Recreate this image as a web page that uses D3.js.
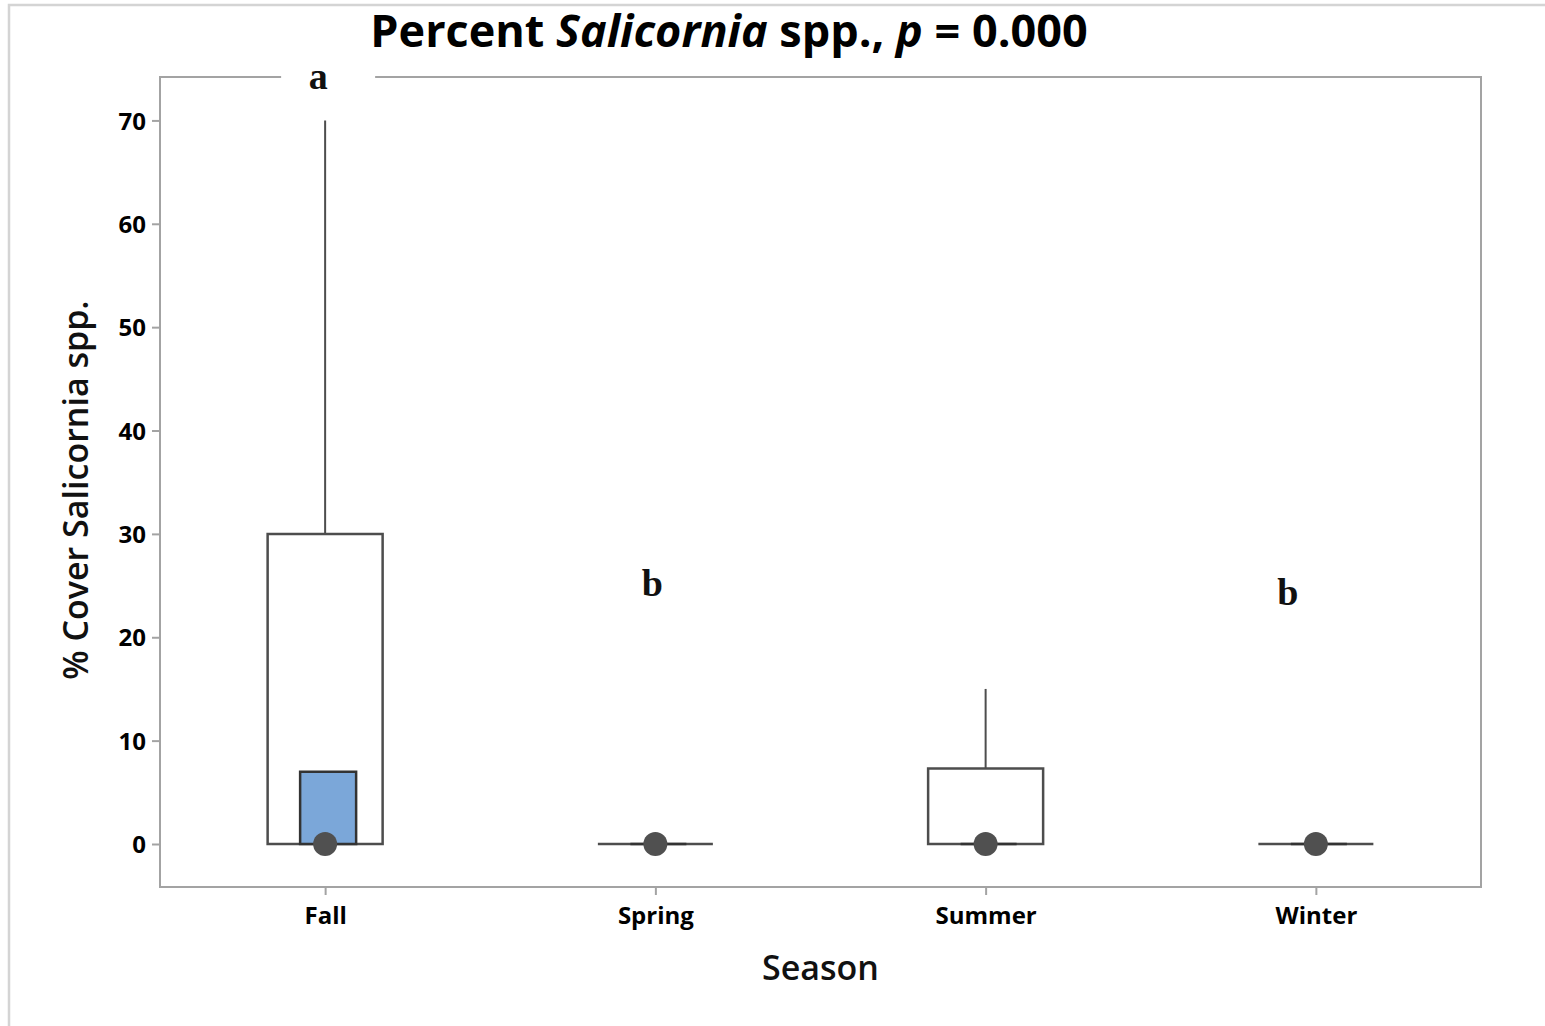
<!DOCTYPE html>
<html>
<head>
<meta charset="utf-8">
<script src="https://cdn.jsdelivr.net/npm/d3@7"></script>
<style>
  body { margin: 0; background: #fff; }
  text { font-family: "Open Sans", "Noto Sans", sans-serif; }
</style>
</head>
<body>
<div id="chart"></div>
<script>
// data
var seasons = ["Fall", "Spring", "Summer", "Winter"];
var q1 = [0, 0, 0, 0];
var median = [0, 0, 0, 0];
var q3 = [30, 0, 7.3, 0];
var whiskerHigh = [70, 0, 15, 0];
var ciLow = [0, 0, 0, 0];
var ciHigh = [7, 0, 0, 0];
var groupLetters = ["a", "b", "", "b"];
var letterValue = [74.3, 25.3, 0, 24.4];
var yTicks = [0, 10, 20, 30, 40, 50, 60, 70];

var W = 1545, H = 1026;
var margin = { top: 77, right: 64, bottom: 139, left: 160 },
    width = W - margin.left - margin.right,
    height = H - margin.top - margin.bottom;

var svg = d3.select("#chart")
    .append("svg")
    .attr("width", W)
    .attr("height", H);

// outer frame, cut off on the right and bottom like the original
svg.append("rect")
    .attr("x", 9).attr("y", 5)
    .attr("width", W + 20).attr("height", H + 20)
    .style("fill", "none")
    .style("stroke", "#d4d4d4")
    .style("stroke-width", 2.5);

var g = svg.append("g")
    .attr("transform", "translate(" + margin.left + "," + margin.top + ")");

var x = d3.scalePoint()
    .domain(seasons)
    .range([0, width])
    .padding(0.5);

var y = d3.scaleLinear()
    .domain([-4.16, 74.2])
    .range([height, 0]);

// plot frame
g.append("rect")
    .attr("width", width)
    .attr("height", height)
    .style("fill", "none")
    .style("stroke", "#a3a3a3")
    .style("stroke-width", 2);

// axes
var yAxis = g.append("g")
    .call(d3.axisLeft(y).tickValues(yTicks).tickSize(8).tickPadding(6));
var xAxis = g.append("g")
    .attr("transform", "translate(0," + height + ")")
    .call(d3.axisBottom(x).tickSize(8).tickPadding(6));

[xAxis, yAxis].forEach(function (a) {
    a.select(".domain").remove();
    a.selectAll(".tick line").style("stroke", "#a3a3a3").style("stroke-width", 2);
    a.selectAll(".tick text")
        .style("font-size", "24px")
        .style("font-weight", "bold")
        .style("fill", "#000");
});
xAxis.selectAll(".tick text").attr("dy", "0.95em");
yAxis.selectAll(".tick text").attr("dy", "0.36em");

// boxes
var boxW = 115, ciW = 56, dark = "#4d4d4d";
var rows = seasons.map(function (s, i) {
    return { s: s, q1: q1[i], med: median[i], q3: q3[i], hi: whiskerHigh[i],
             ciLo: ciLow[i], ciHi: ciHigh[i] };
});

function rectPath(x0, x1, y0, y1) {
    return "M" + x0 + "," + y0 + "H" + x1 + "V" + y1 + "H" + x0 + "Z";
}

var box = g.selectAll("g.box")
    .data(rows)
    .enter()
    .append("g")
    .attr("class", "box")
    .attr("transform", function (d) { return "translate(" + x(d.s) + ",0)"; });

box.filter(function (d) { return d.hi > d.q3; })
    .append("line")
    .attr("y1", function (d) { return y(d.q3); })
    .attr("y2", function (d) { return y(d.hi); })
    .style("stroke", dark)
    .style("stroke-width", 2);

box.append("path")
    .attr("d", function (d) { return rectPath(-boxW / 2, boxW / 2, y(d.q3), y(d.q1)); })
    .style("fill", "#fff")
    .style("stroke", dark)
    .style("stroke-width", 2.5);

box.append("path")
    .attr("d", function (d) { return rectPath(-25, -25 + ciW, y(d.ciHi), y(d.ciLo)); })
    .style("fill", "#7ba7d9")
    .style("stroke", "#333")
    .style("stroke-width", 2.5);

box.append("circle")
    .attr("cy", function (d) { return y(d.med); })
    .attr("r", 12)
    .style("fill", "#505050");

// significance letters (small horizontal nudges as in the original)
var letterNudge = [-7, -3, 0, -28];
var letters = g.selectAll("g.letter")
    .data(seasons.map(function (s, i) { return { s: s, t: groupLetters[i], v: letterValue[i], dx: letterNudge[i] }; })
        .filter(function (d) { return d.t !== ""; }))
    .enter()
    .append("g")
    .attr("class", "letter")
    .attr("transform", function (d) { return "translate(" + (x(d.s) + d.dx) + "," + y(d.v) + ")"; });

letters.filter(function (d) { return y(d.v) < 10; })
    .append("rect")
    .attr("x", -37).attr("y", -20)
    .attr("width", 94).attr("height", 30)
    .style("fill", "#fff");

letters.append("text")
    .attr("text-anchor", "middle")
    .attr("dy", "0.35em")
    .style("font-family", "'Liberation Serif', 'DejaVu Serif', serif")
    .style("font-weight", "bold")
    .style("font-size", "38px")
    .style("fill", "#111")
    .text(function (d) { return d.t; });

// title
var title = svg.append("text")
    .attr("x", 729)
    .attr("y", 47)
    .attr("text-anchor", "middle")
    .style("font-size", "45px")
    .style("font-weight", "bold")
    .style("fill", "#000");
title.append("tspan").text("Percent ");
title.append("tspan").style("font-style", "italic").text("Salicornia");
title.append("tspan").text(" spp., ");
title.append("tspan").style("font-style", "italic").text("p");
title.append("tspan").text(" = 0.000");

// axis titles
svg.append("text")
    .attr("x", margin.left + width / 2)
    .attr("y", 980)
    .attr("text-anchor", "middle")
    .style("font-size", "34px")
    .style("font-weight", "600")
    .style("fill", "#111")
    .text("Season");

svg.append("text")
    .attr("transform", "translate(88," + 490 + ") rotate(-90)")
    .attr("text-anchor", "middle")
    .style("font-size", "34px")
    .style("font-weight", "600")
    .style("fill", "#111")
    .text("% Cover Salicornia spp.");
</script>
</body>
</html>
